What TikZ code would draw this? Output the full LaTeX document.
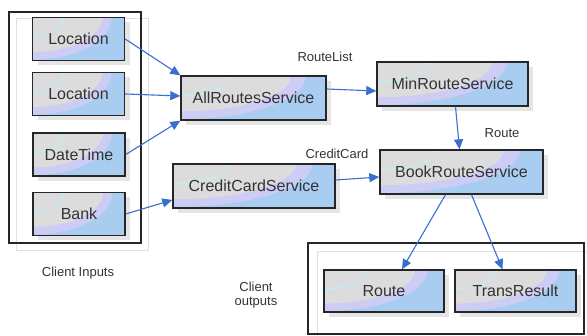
\documentclass[tikz,border=0pt]{standalone}
\usepackage{fontspec}
\setmainfont{Liberation Sans}
\usetikzlibrary{arrows.meta,shadows,calc}

\definecolor{boxblue}{HTML}{A9CDF0}
\definecolor{bandlav}{HTML}{CCCCF5}
\definecolor{bandgray}{HTML}{DCDCDC}
\definecolor{bandcyan}{HTML}{C4ECF8}
\definecolor{flowblue}{HTML}{3A6FD0}
\definecolor{txtgray}{HTML}{333333}

\begin{document}
\begin{tikzpicture}[x=1pt, y=-1pt,
  svc/.style={draw=black!85, line width=1.4pt, fill=boxblue, inner sep=0pt,
    minimum width=92pt, minimum height=43pt, text=txtgray,
    font=\fontsize{16}{18}\selectfont,
    drop shadow={shadow xshift=5pt, shadow yshift=-5pt, fill=black!10, opacity=1},
    path picture={
      \fill[bandlav] let \p1=(path picture bounding box.north west),
        \p2=(path picture bounding box.south east),
        \n1={\x2-\x1}, \n2={\y1-\y2} in
        (\p1) ellipse [x radius={0.86*\n1*1pt}, y radius={0.98*\n2*1pt}];
      \fill[bandgray] let \p1=(path picture bounding box.north west),
        \p2=(path picture bounding box.south east),
        \n1={\x2-\x1}, \n2={\y1-\y2} in
        (\p1) ellipse [x radius={0.76*\n1*1pt}, y radius={0.8*\n2*1pt}];
      \draw[bandcyan, line width=1.2pt] let \p1=(path picture bounding box.north west),
        \p2=(path picture bounding box.south east),
        \n1={\x2-\x1}, \n2={\y1-\y2} in
        (\p1) ellipse [x radius={0.34*\n1*1pt}, y radius={0.45*\n2*1pt}];
    }},
  lbl/.style={inner sep=0pt, text=txtgray, font=\fontsize{13}{14}\selectfont},
  flow/.style={draw=flowblue, line width=1.1pt, -{Triangle[length=10pt,width=9pt]}}]

\useasboundingbox (0,0) rectangle (587,336);

\draw[black!12, line width=1pt] (16,19) rectangle (148,251);
\draw[black!85, line width=1.4pt] (9,12) rectangle (141,243);
\draw[black!12, line width=1pt] (317,252) rectangle (590,340);
\draw[black!85, line width=1.4pt] (308,243) rectangle (584,334);

\node[svc] (loc1) at (78.5,39) {Location};
\node[svc] (loc2) at (78.5,94) {Location};
\node[svc] (datetime) at (79,154.5) {DateTime};
\node[svc] (bank) at (79,214) {Bank};

\node[svc, minimum width=145pt, minimum height=44pt] (allroutes) at (253.5,98) {AllRoutesService};
\node[svc, minimum width=162pt, minimum height=44pt] (creditcard) at (254,186) {CreditCardService};
\node[svc, minimum width=151pt, minimum height=44pt] (minroute) at (452.5,84) {MinRouteService};
\node[svc, minimum width=163pt, minimum height=44pt] (bookroute) at (461.5,172) {BookRouteService};
\node[svc, minimum width=120pt, minimum height=42pt] (route) at (384,291) {Route};
\node[svc, minimum width=121pt, minimum height=42pt] (transresult) at (515.5,291) {TransResult};

\node[lbl] (routelist) at (325,57) {RouteList};
\node[lbl] (creditcardlbl) at (337,154) {CreditCard};
\node[lbl] (routelbl) at (502,133) {Route};
\node[lbl] (inputs) at (78,273) {Client Inputs};
\node[lbl, align=center, font=\fontsize{13}{14.5}\selectfont] (outputs) at (256,295) {Client\\outputs};

\draw[flow] (loc1.east) -- (allroutes.north west);
\draw[flow] (loc2.east) -- ([yshift=2pt]allroutes.west);
\draw[flow] (datetime.east) -- (allroutes.south west);
\draw[flow] (bank.east) -- ([yshift=-14pt]creditcard.west);
\draw[flow] ([yshift=9pt]allroutes.east) -- ([yshift=-7pt]minroute.west);
\draw[flow] ([yshift=6pt]creditcard.east) -- ([yshift=-5pt]bookroute.west);
\draw[flow] ([xshift=3pt]minroute.south) -- ([xshift=-2pt]bookroute.north);
\draw[flow] ([xshift=-16pt]bookroute.south) -- ([xshift=18pt]route.north);
\draw[flow] ([xshift=10pt]bookroute.south) -- ([xshift=-13pt]transresult.north);
\end{tikzpicture}
\end{document}
